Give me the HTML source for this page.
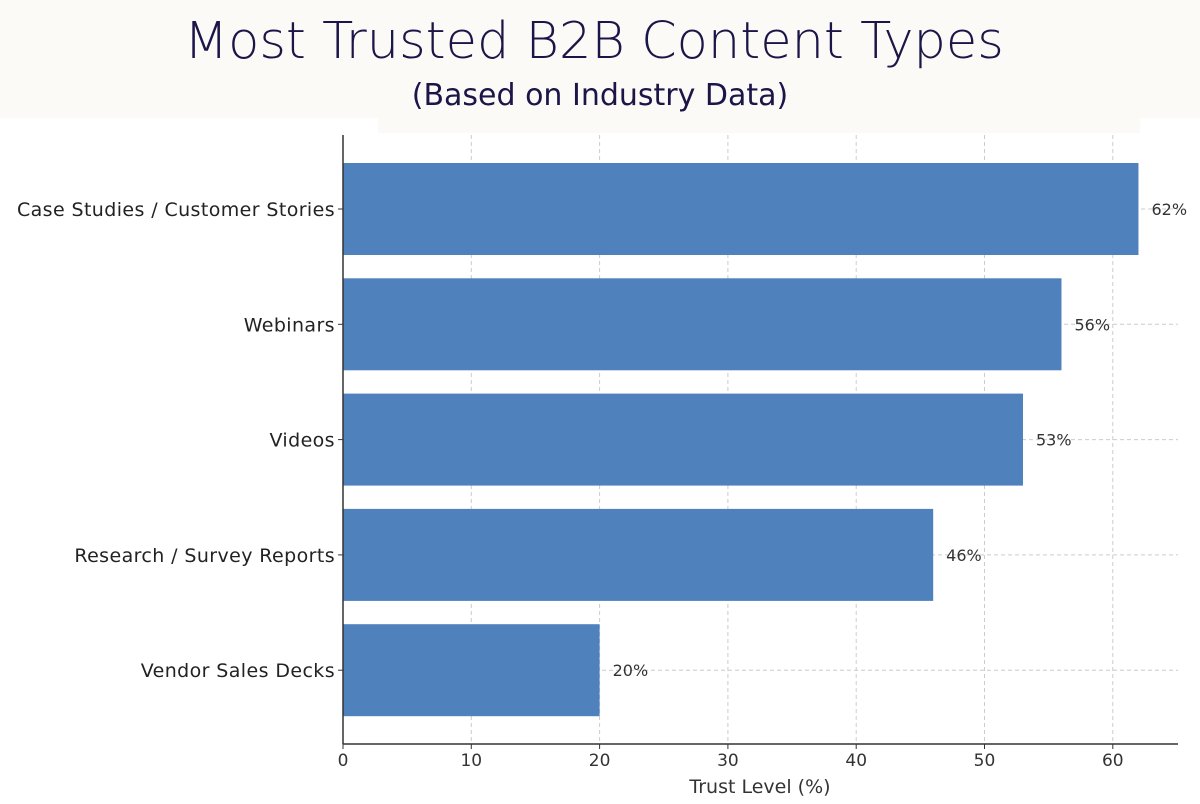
<!DOCTYPE html>
<html><head><meta charset="utf-8"><style>
body{margin:0;background:#fff;width:1200px;height:800px;overflow:hidden;font-family:"DejaVu Sans","Liberation Sans",sans-serif}
</style></head><body>
<svg id="chart" width="1200" height="800" xmlns="http://www.w3.org/2000/svg" font-family="DejaVu Sans, sans-serif">
<rect x="0" y="0" width="1200" height="118" fill="#fbfaf6"/>
<rect x="378" y="110" width="762" height="23" fill="#fbfaf6"/>
<text x="594" y="58" text-anchor="middle" font-size="51" fill="#1b1548" font-weight="300">Most Trusted B2B Content Types</text>
<text x="600" y="105" text-anchor="middle" font-size="30" fill="#1b1548">(Based on Industry Data)</text>
<g id="grid"></g><g id="bars"></g><g id="axes"></g>
</svg>
<script>
const categories=["Case Studies / Customer Stories","Webinars","Videos","Research / Survey Reports","Vendor Sales Decks"];
const values=[62,56,53,46,20];
const valueLabels=["62%","56%","53%","46%","20%"];
const xTicks=[0,10,20,30,40,50,60];
const NS="http://www.w3.org/2000/svg";
const x0=343,pxPer=12.83,plotTop=135,plotBottom=744,plotRight=1178,firstY=209,step=115.3,barH=92;
const X=v=>x0+v*pxPer, Y=i=>firstY+i*step;
function mk(tag,attrs,parent){const e=document.createElementNS(NS,tag);for(const k in attrs)e.setAttribute(k,attrs[k]);document.getElementById(parent).appendChild(e);return e;}
xTicks.forEach(t=>{
 const g=mk('line',{x1:X(t),x2:X(t),y1:plotTop,y2:plotBottom,stroke:'#cccccc','stroke-dasharray':'4,3','stroke-width':1},'grid');
 
 
 const tk=mk('line',{x1:X(t),x2:X(t),y1:plotBottom,y2:plotBottom+5,stroke:'#333'},'axes');
 
 
 const l=mk('text',{x:X(t),y:plotBottom+22,'text-anchor':'middle','font-size':17,fill:'#333'},'axes');
 l.textContent=t;
 
 
});
categories.forEach((c,i)=>{
 const g=mk('line',{x1:x0,x2:plotRight,y1:Y(i),y2:Y(i),stroke:'#cccccc','stroke-dasharray':'4,3'},'grid');
 
 
 const b=mk('rect',{x:x0,y:Y(i)-barH/2,width:X(values[i])-x0,height:barH,fill:'#4f81bd'},'bars');
 
 
 const v=mk('text',{x:X(values[i])+13,y:Y(i)+6,'font-size':16,fill:'#333'},'bars');
 v.textContent=valueLabels[i];
 
 
 const tk=mk('line',{x1:x0-5,x2:x0,y1:Y(i),y2:Y(i),stroke:'#333'},'axes');
 
 
 const l=mk('text',{x:x0-8,y:Y(i)+7,'text-anchor':'end','font-size':19,'letter-spacing':0.4,fill:'#222'},'axes');
 l.textContent=c;
 
 
});
const ax=mk('line',{x1:x0,x2:x0,y1:plotTop,y2:plotBottom,stroke:'#333','stroke-width':1.5},'axes');


const bx=mk('line',{x1:x0,x2:plotRight,y1:plotBottom,y2:plotBottom,stroke:'#333','stroke-width':1.5},'axes');


const xt=mk('text',{x:760,y:793,'text-anchor':'middle','font-size':19,fill:'#333'},'axes');
xt.textContent='Trust Level (%)';


</script>
</body></html>
